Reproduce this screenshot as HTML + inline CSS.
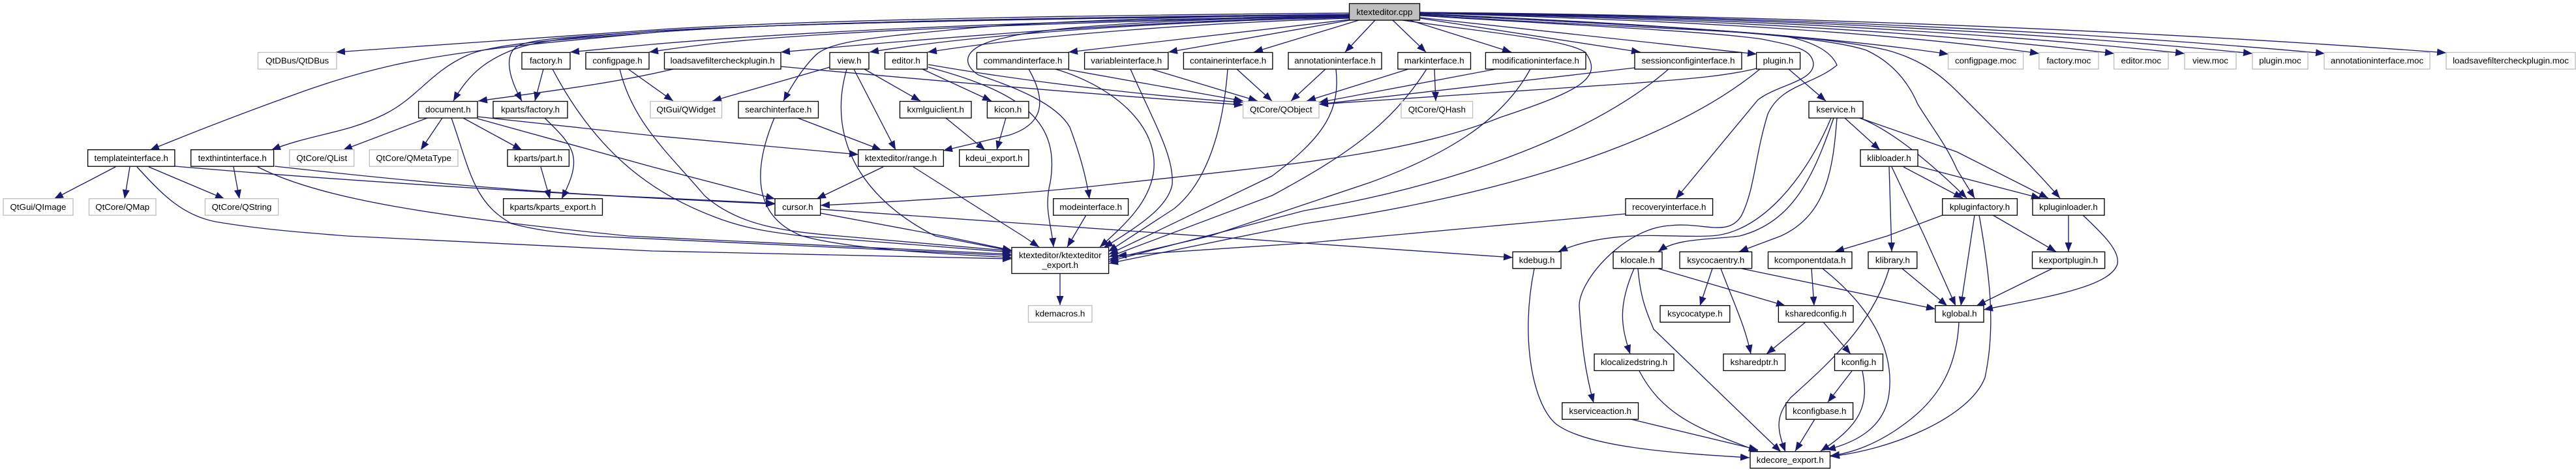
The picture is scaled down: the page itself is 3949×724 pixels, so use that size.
<!DOCTYPE html>
<html><head><meta charset="utf-8"><style>
html,body{margin:0;padding:0;background:#fff;width:3949px;height:724px;overflow:hidden}
svg{display:block}
text{font-family:"Liberation Sans",sans-serif;font-size:13.33px;text-anchor:middle;fill:#000}
.n rect{fill:#fff;stroke:#000;stroke-width:1.33}
.g rect{fill:#fff;stroke:#bfbfbf;stroke-width:1.33}
</style></head><body>
<svg width="3949" height="724" viewBox="0 0 3949 724" xmlns="http://www.w3.org/2000/svg">
<defs><marker id="a" markerUnits="userSpaceOnUse" markerWidth="15" markerHeight="11" refX="14" refY="5.5" orient="auto"><path d="M0,0L14,5.5L0,11z" fill="#191970"/></marker></defs>
<g fill="none" stroke="#191970" stroke-width="1.33" marker-end="url(#a)">
<!-- root left -->
<path d="M2069,20C1600,24 1200,32 1000,46L515,80"/>
<path d="M2069,24C1700,30 1300,42 1000,68L874,80"/>
<path d="M2069,25C1700,32 1300,45 1100,66Q1040,73 995,80"/>
<path d="M2069,26C1800,30 1500,52 1197,80"/>
<path d="M2069,27C1800,32 1500,52 1333,80"/>
<path d="M2069,28C1850,35 1600,52 1422,80"/>
<path d="M2069,30L1638,80"/>
<path d="M2069,31L1791,80"/>
<path d="M2083,31L1922,80"/>
<path d="M2069,22C1800,25 1550,35 1446,47C1330,58 1270,65 1250,85Q1225,110 1201,155"/>
<path d="M2069,24C1800,30 1606,40 1540,58C1480,70 1470,95 1500,115C1560,135 1620,160 1640,195C1655,235 1665,270 1670,305"/>
<path d="M2069,22C1700,26 1200,33 1000,50C900,60 800,68 733,78C640,90 560,105 446,147Q340,185 230,230"/>
<path d="M2069,22C1700,26 1200,33 1000,50C880,60 760,65 716,85C660,110 640,150 590,175C530,205 480,205 416,230"/>
<path d="M2069,23C1700,27 1200,35 1000,48C900,56 830,60 790,75C750,90 720,110 695,155"/>
<path d="M2069,23C1700,27 1200,35 1000,48C900,56 820,58 795,70C775,80 775,110 800,155"/>
<!-- root down -->
<path d="M2108,31L2062,80"/>
<path d="M2135,31L2186,80"/>
<path d="M2161,31L2317,80"/>
<path d="M2177,28L2515,80"/>
<path d="M2177,27L2693,83"/>
<!-- root right -->
<path d="M2177,21C2500,35 2800,55 2987,83"/>
<path d="M2177,20C2600,32 2900,50 3126,82"/>
<path d="M2177,20C2600,28 2950,48 3241,82"/>
<path d="M2177,20C2600,26 3000,45 3349,82"/>
<path d="M2177,19C2600,25 3050,42 3453,82"/>
<path d="M2177,19C2600,24 3100,40 3564,82"/>
<path d="M2177,19C2600,22 3200,40 3750,81"/>
<path d="M2177,22C2500,38 2780,50 2893,77C2940,90 2970,110 3000,140C3070,210 3120,260 3158,304"/>
<path d="M2177,22C2500,38 2780,50 2861,77C2900,95 2925,125 2940,160C2965,200 2985,225 3000,260L3027,304"/>
<path d="M2177,24C2400,38 2620,48 2701,60C2750,70 2778,75 2780,98C2780,125 2725,130 2695,153L2569,305"/>
<path d="M2177,23C2400,38 2640,45 2733,55C2790,65 2810,85 2816,100C2780,130 2730,130 2710,175C2690,240 2690,290 2670,330C2650,365 2610,340 2560,346C2490,350 2420,430 2421,470C2425,530 2430,570 2443,618"/>
<path d="M2150,31C2280,50 2400,60 2430,80C2460,120 2420,140 2300,180C2150,240 1950,255 1700,283C1570,298 1400,308 1258,315"/>
<!-- crop1 -->
<path d="M833,106L820,155"/>
<path d="M963,106L1032,155"/>
<path d="M1032,106C940,128 840,140 733,155"/>
<path d="M655,181L526,230"/>
<path d="M678,181L645,230"/>
<path d="M710,181L800,230"/>
<path d="M732,179L1000,208L1316,237"/>
<path d="M732,182L1000,256L1188,305"/>
<path d="M835,181C880,225 895,240 861,305"/>
<path d="M177,256L83,305"/>
<path d="M199,256L191,305"/>
<path d="M228,256L344,305"/>
<path d="M358,256L367,305"/>
<path d="M829,256L843,305"/>
<path d="M268,255C500,275 800,295 1188,313"/>
<path d="M421,255C600,275 800,295 1000,303L1188,312"/>
<!-- to export -->
<path d="M210,256C250,300 280,330 330,340C400,352 470,357 532,362L1000,385L1551,397"/>
<path d="M395,256C500,310 700,335 963,362L1551,390"/>
<path d="M692,181C720,260 725,310 784,343C830,355 870,358 905,362L1551,392"/>
<path d="M847,106C920,245 1010,300 1096,333C1140,350 1180,356 1230,362L1551,387"/>
<path d="M950,106C970,190 1030,240 1080,300C1130,345 1200,355 1287,362L1551,385"/>
<path d="M1187,181C1150,270 1160,335 1230,362C1300,382 1450,390 1551,395"/>
<path d="M1298,106C1265,220 1330,310 1434,362L1551,385"/>
<path d="M1258,327L1446,362L1551,384"/>
<path d="M1400,256L1568,362L1593,379"/>
<path d="M1665,330L1636,379"/>
<path d="M1423,103C1574,143 1625,190 1610,280C1600,320 1612,345 1615,379"/>
<path d="M1577,106C1605,155 1600,190 1548,207L1446,231"/>
<path d="M1618,106C1700,130 1780,190 1768,267C1760,310 1730,340 1686,379"/>
<path d="M1733,106C1770,190 1800,240 1797,283C1790,320 1740,350 1692,380"/>
<path d="M1882,106C1875,200 1850,280 1800,320L1699,386"/>
<path d="M2048,106C2055,170 2030,210 1950,270L1700,390"/>
<path d="M2187,106C2130,195 2060,240 1950,300L1700,394"/>
<path d="M2346,106C2300,190 2210,240 2100,280L1855,362L1700,398"/>
<path d="M2558,106C2450,200 2250,280 2000,323L1700,401"/>
<path d="M2698,106C2560,220 2300,300 2000,343L1700,404"/>
<path d="M2492,328L2000,373L1713,392"/>
<path d="M1258,321L2000,373L2319,395"/>
<path d="M1625,419V468"/>
<!-- crop2 -->
<path d="M1272,103L1092,155"/>
<path d="M1325,106L1411,155"/>
<path d="M1309,106L1373,230"/>
<path d="M1450,181L1510,230"/>
<path d="M1542,181L1528,230"/>
<path d="M1414,106L1520,155"/>
<path d="M1223,181L1351,230"/>
<path d="M1354,256L1252,305"/>
<path d="M1423,99C1600,130 1800,150 1905,157"/>
<path d="M1197,102C1500,130 1750,150 1906,161"/>
<path d="M1638,107L1906,155"/>
<path d="M1765,106L1928,155"/>
<path d="M1896,106L1950,155"/>
<path d="M2032,106L1979,155"/>
<path d="M2159,106L2003,155"/>
<path d="M2199,106L2201,155"/>
<path d="M2293,106L2022,157"/>
<path d="M2506,104L2022,160"/>
<path d="M2693,105C2640,118 2574,122 2500,128L2022,160"/>
<!-- kservice etc -->
<path d="M2742,106L2799,155"/>
<path d="M2828,181L2882,230"/>
<path d="M2851,181C2900,200 2960,250 3015,304"/>
<path d="M2851,181L3000,233L3140,304"/>
<path d="M2940,255L3128,304"/>
<path d="M2918,256L3009,304"/>
<path d="M2900,256L2950,362L2998,469"/>
<path d="M2896,256L2900,386"/>
<path d="M2807,181C2770,270 2700,360 2620,362C2560,365 2470,350 2389,386"/>
<path d="M2811,181C2780,270 2750,340 2667,362C2620,368 2570,365 2542,386"/>
<path d="M2816,181C2810,260 2800,330 2730,362L2666,386"/>
<path d="M2978,330L2893,362L2813,386"/>
<path d="M3027,330L3006,469"/>
<path d="M3055,330L3152,386"/>
<path d="M3171,330V386"/>
<path d="M3193,330C3225,360 3250,385 3246,405C3235,440 3140,455 3041,475"/>
<path d="M3146,412L3030,469"/>
<path d="M2916,412L2985,469"/>
<path d="M2777,412L2781,469"/>
<path d="M2670,412L2967,474"/>
<path d="M2625,412L2606,469"/>
<path d="M2638,412C2660,470 2675,500 2684,543"/>
<path d="M2542,412L2737,469"/>
<path d="M2505,412C2480,470 2485,500 2499,543"/>
<path d="M2768,494L2708,543"/>
<path d="M2795,494L2837,543"/>
<path d="M2839,569L2802,617"/>
<!-- to kdecore -->
<path d="M3034,330C3050,420 3060,500 3043,579C3020,640 2900,690 2806,700"/>
<path d="M3003,494C3000,560 2975,610 2920,650C2880,680 2840,695 2806,699"/>
<path d="M2896,412C2870,500 2800,560 2745,610C2720,640 2725,660 2737,693"/>
<path d="M2794,412C2880,480 2905,550 2895,610C2885,660 2840,680 2800,690"/>
<path d="M2511,412C2515,460 2525,480 2535,505L2730,693"/>
<path d="M2855,569C2865,620 2855,650 2791,692"/>
<path d="M2782,643L2752,692"/>
<path d="M2513,569C2550,640 2610,660 2695,692"/>
<path d="M2500,643L2695,690"/>
<path d="M2352,412C2330,520 2350,620 2385,650C2430,685 2560,695 2682,702"/>
</g>
<g class="g">
<rect x="395.5" y="80.5" width="120.5" height="25.5"/>
<rect x="997" y="155.5" width="109.5" height="25.5"/>
<rect x="443.9" y="229.7" width="98.8" height="25.5"/>
<rect x="566.3" y="229.7" width="135.7" height="25.5"/>
<rect x="5" y="304.7" width="107" height="25.5"/>
<rect x="136.5" y="304.7" width="102.5" height="25.5"/>
<rect x="314.4" y="304.7" width="112.3" height="25.5"/>
<rect x="1905.6" y="155.5" width="116.4" height="25.5"/>
<rect x="2148" y="155.5" width="109.6" height="25.5"/>
<rect x="2986.6" y="80.5" width="115" height="25.5"/>
<rect x="3125.8" y="80.5" width="91.2" height="25.5"/>
<rect x="3240.7" y="80.5" width="83.3" height="25.5"/>
<rect x="3349" y="80.5" width="79" height="25.5"/>
<rect x="3452.9" y="80.5" width="85.1" height="25.5"/>
<rect x="3563" y="80.5" width="162" height="25.5"/>
<rect x="3750" y="80.5" width="198" height="25.5"/>
<rect x="1576.5" y="468.7" width="97.5" height="25.5"/>
</g>
<g class="n">
<rect x="2068.5" y="5.5" width="108" height="25.5" style="fill:#bfbfbf"/>
<rect x="800" y="80.5" width="74" height="25.5"/>
<rect x="898" y="80.5" width="97" height="25.5"/>
<rect x="1018.5" y="80.5" width="178.5" height="25.5"/>
<rect x="1272" y="80.5" width="60" height="25.5"/>
<rect x="1356.5" y="80.5" width="65" height="25.5"/>
<rect x="1497.4" y="80.5" width="141" height="25.5"/>
<rect x="1662.6" y="80.5" width="128.2" height="25.5"/>
<rect x="1814.4" y="80.5" width="136.5" height="25.5"/>
<rect x="1975" y="80.5" width="143" height="25.5"/>
<rect x="2142.9" y="80.5" width="111.6" height="25.5"/>
<rect x="2277.4" y="80.5" width="153.6" height="25.5"/>
<rect x="2506" y="80.5" width="164" height="25.5"/>
<rect x="2692.6" y="80.5" width="67" height="25.5"/>
<rect x="641.6" y="155.5" width="90.4" height="25.5"/>
<rect x="756" y="155.5" width="114" height="25.5"/>
<rect x="1132" y="155.5" width="122.5" height="25.5"/>
<rect x="1379.5" y="155.5" width="109.5" height="25.5"/>
<rect x="1513.4" y="155.5" width="63.6" height="25.5"/>
<rect x="2773" y="155.5" width="83" height="25.5"/>
<rect x="134.6" y="229.7" width="133.3" height="25.5"/>
<rect x="292.7" y="229.7" width="126.9" height="25.5"/>
<rect x="778" y="229.7" width="94.4" height="25.5"/>
<rect x="1315.7" y="229.7" width="130.7" height="25.5"/>
<rect x="1470.7" y="229.7" width="106.3" height="25.5"/>
<rect x="2852" y="229.7" width="88" height="25.5"/>
<rect x="771.7" y="304.7" width="151.8" height="25.5"/>
<rect x="1188" y="304.7" width="69.7" height="25.5"/>
<rect x="1614.8" y="304.7" width="114.8" height="25.5"/>
<rect x="2492" y="304.7" width="133.6" height="25.5"/>
<rect x="2977.7" y="304.7" width="114.7" height="25.5"/>
<rect x="3116" y="304.7" width="110" height="25.5"/>
<rect x="1551" y="379.5" width="148.6" height="40"/>
<rect x="2319" y="386.3" width="74" height="25.5"/>
<rect x="2473" y="386.3" width="75" height="25.5"/>
<rect x="2575" y="386.3" width="110.6" height="25.5"/>
<rect x="2710.5" y="386.3" width="128.5" height="25.5"/>
<rect x="2864" y="386.3" width="74.8" height="25.5"/>
<rect x="3115.5" y="386.3" width="111.2" height="25.5"/>
<rect x="2545" y="468.7" width="106.8" height="25.5"/>
<rect x="2726.4" y="468.7" width="114.6" height="25.5"/>
<rect x="2966.8" y="468.7" width="74.2" height="25.5"/>
<rect x="2444" y="543" width="122" height="25.5"/>
<rect x="2642" y="543" width="94.6" height="25.5"/>
<rect x="2812.5" y="543" width="74" height="25.5"/>
<rect x="2394.8" y="617.7" width="116.7" height="25.5"/>
<rect x="2738" y="617.7" width="102.6" height="25.5"/>
<rect x="2683" y="692.7" width="122.5" height="25.5"/>
</g>
<text x="2122.5" y="23">ktexteditor.cpp</text>
<text x="455.7" y="97.5">QtDBus/QtDBus</text>
<text x="837" y="97.5">factory.h</text>
<text x="946.5" y="97.5">configpage.h</text>
<text x="1107.7" y="97.5">loadsavefiltercheckplugin.h</text>
<text x="1302" y="97.5">view.h</text>
<text x="1389" y="97.5">editor.h</text>
<text x="1568" y="97.5">commandinterface.h</text>
<text x="1726.7" y="97.5">variableinterface.h</text>
<text x="1882.6" y="97.5">containerinterface.h</text>
<text x="2046.5" y="97.5">annotationinterface.h</text>
<text x="2198.7" y="97.5">markinterface.h</text>
<text x="2354.2" y="97.5">modificationinterface.h</text>
<text x="2588" y="97.5">sessionconfiginterface.h</text>
<text x="2726" y="97.5">plugin.h</text>
<text x="3044" y="97.5">configpage.moc</text>
<text x="3171.4" y="97.5">factory.moc</text>
<text x="3282.3" y="97.5">editor.moc</text>
<text x="3388.5" y="97.5">view.moc</text>
<text x="3495.4" y="97.5">plugin.moc</text>
<text x="3644" y="97.5">annotationinterface.moc</text>
<text x="3849" y="97.5">loadsavefiltercheckplugin.moc</text>
<text x="686.8" y="172.5">document.h</text>
<text x="813" y="172.5">kparts/factory.h</text>
<text x="1051.7" y="172.5">QtGui/QWidget</text>
<text x="1193.2" y="172.5">searchinterface.h</text>
<text x="1434.2" y="172.5">kxmlguiclient.h</text>
<text x="1545.2" y="172.5">kicon.h</text>
<text x="1963.8" y="172.5">QtCore/QObject</text>
<text x="2202.8" y="172.5">QtCore/QHash</text>
<text x="2814.5" y="172.5">kservice.h</text>
<text x="201.2" y="247">templateinterface.h</text>
<text x="356.2" y="247">texthintinterface.h</text>
<text x="493.3" y="247">QtCore/QList</text>
<text x="634.2" y="247">QtCore/QMetaType</text>
<text x="825.2" y="247">kparts/part.h</text>
<text x="1381" y="247">ktexteditor/range.h</text>
<text x="1523.8" y="247">kdeui_export.h</text>
<text x="2896" y="247">klibloader.h</text>
<text x="58.5" y="322">QtGui/QImage</text>
<text x="187.7" y="322">QtCore/QMap</text>
<text x="370.5" y="322">QtCore/QString</text>
<text x="847.6" y="322">kparts/kparts_export.h</text>
<text x="1222.8" y="322">cursor.h</text>
<text x="1672.2" y="322">modeinterface.h</text>
<text x="2558.8" y="322">recoveryinterface.h</text>
<text x="3035" y="322">kpluginfactory.h</text>
<text x="3171" y="322">kpluginloader.h</text>
<text x="1625.3" y="396">ktexteditor/ktexteditor</text>
<text x="1625.3" y="411">_export.h</text>
<text x="1625.2" y="485.5">kdemacros.h</text>
<text x="2356" y="403.5">kdebug.h</text>
<text x="2510.5" y="403.5">klocale.h</text>
<text x="2630.3" y="403.5">ksycocaentry.h</text>
<text x="2774.7" y="403.5">kcomponentdata.h</text>
<text x="2901.4" y="403.5">klibrary.h</text>
<text x="3171" y="403.5">kexportplugin.h</text>
<text x="2598.4" y="485.5">ksycocatype.h</text>
<text x="2783.7" y="485.5">ksharedconfig.h</text>
<text x="3003.9" y="485.5">kglobal.h</text>
<text x="2505" y="560">klocalizedstring.h</text>
<text x="2689.3" y="560">ksharedptr.h</text>
<text x="2849.5" y="560">kconfig.h</text>
<text x="2453.2" y="635">kserviceaction.h</text>
<text x="2789.3" y="635">kconfigbase.h</text>
<text x="2744.3" y="710">kdecore_export.h</text>
</svg>
</body></html>
